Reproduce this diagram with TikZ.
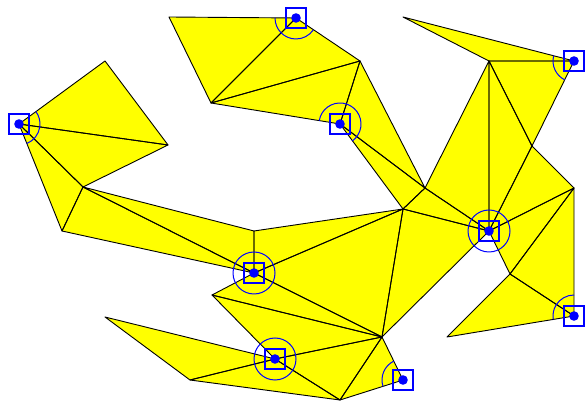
\documentclass[tikz,border=0pt]{standalone}
\usepackage{tikz}
\definecolor{Face}{RGB}{255,255,0}
\definecolor{Mark}{RGB}{0,0,255}
\tikzset{
  face/.style={fill=Face},
  edge/.style={draw=black, line width=0.9pt, line join=round},
  vbox/.style={draw=Mark, line width=2.2pt, rectangle, minimum size=19.5pt, inner sep=0pt},
  vdot/.style={fill=Mark, circle, minimum size=9.6pt, inner sep=0pt},
  vring/.style={draw=Mark, line width=1pt},
}
\begin{document}
\begin{tikzpicture}[x=1pt, y=1pt]
  \useasboundingbox (0,0) rectangle (586,401);
  % vertices of the net
  \coordinate (A) at (19,277);   \coordinate (B) at (105,340);
  \coordinate (C) at (168,256);  \coordinate (D) at (83,214);
  \coordinate (E) at (62,170);   \coordinate (F) at (254,170);
  \coordinate (G) at (254,128);  \coordinate (H) at (212,106);
  \coordinate (I) at (105,84);   \coordinate (J) at (190,21);
  \coordinate (K) at (275,42);   \coordinate (L) at (340,1);
  \coordinate (M) at (382,64);   \coordinate (N) at (403,21);
  \coordinate (O) at (403,192);  \coordinate (P) at (425,213);
  \coordinate (Q) at (340,277);  \coordinate (R) at (360,340);
  \coordinate (S) at (296,383);  \coordinate (T) at (169,384);
  \coordinate (U) at (211,298);  \coordinate (V) at (403,384);
  \coordinate (W) at (489,340);  \coordinate (X) at (574,340);
  \coordinate (Y) at (532,255);  \coordinate (Z) at (574,213);
  \coordinate (AA) at (489,170); \coordinate (AB) at (510,127);
  \coordinate (AC) at (574,85);  \coordinate (AD) at (447,64);
  % faces
  \foreach \a/\b/\c in {A/B/C, A/C/D, A/D/E, D/F/G, D/G/E, F/G/O, G/O/M,
      G/H/M, H/K/M, I/J/K, J/K/L, K/L/M, L/M/N, O/M/AA, O/P/AA, Q/P/O,
      Q/R/P, T/U/S, U/S/R, U/R/Q, V/W/X, W/P/AA, W/X/Y, W/Y/AA, Y/Z/AA,
      Z/AA/AB, Z/AB/AC, AB/AD/AC}
    \fill[face] (\a) -- (\b) -- (\c) -- cycle;
  \foreach \a/\b/\c in {A/B/C, A/C/D, A/D/E, D/F/G, D/G/E, F/G/O, G/O/M,
      G/H/M, H/K/M, I/J/K, J/K/L, K/L/M, L/M/N, O/M/AA, O/P/AA, Q/P/O,
      Q/R/P, T/U/S, U/S/R, U/R/Q, V/W/X, W/P/AA, W/X/Y, W/Y/AA, Y/Z/AA,
      Z/AA/AB, Z/AB/AC, AB/AD/AC}
    \draw[edge] (\a) -- (\b) -- (\c) -- cycle;
  % angle marks
  \foreach \v/\s/\e in {A/-68.1/36.2, S/179.5/326.1, Q/-53.5/170.8,
      X/165.6/243.7, AC/90/189.4, N/116/197.6, G/0/360, K/0/360, AA/0/360}
    \draw[vring] (\v) ++(\s:21) arc[start angle=\s, end angle=\e, radius=21];
  \foreach \v in {A, S, Q, X, AC, N, G, K, AA} {
    \node[vbox] (box\v) at (\v) {};
    \node[vdot] (dot\v) at (\v) {};
  }
\end{tikzpicture}
\end{document}
